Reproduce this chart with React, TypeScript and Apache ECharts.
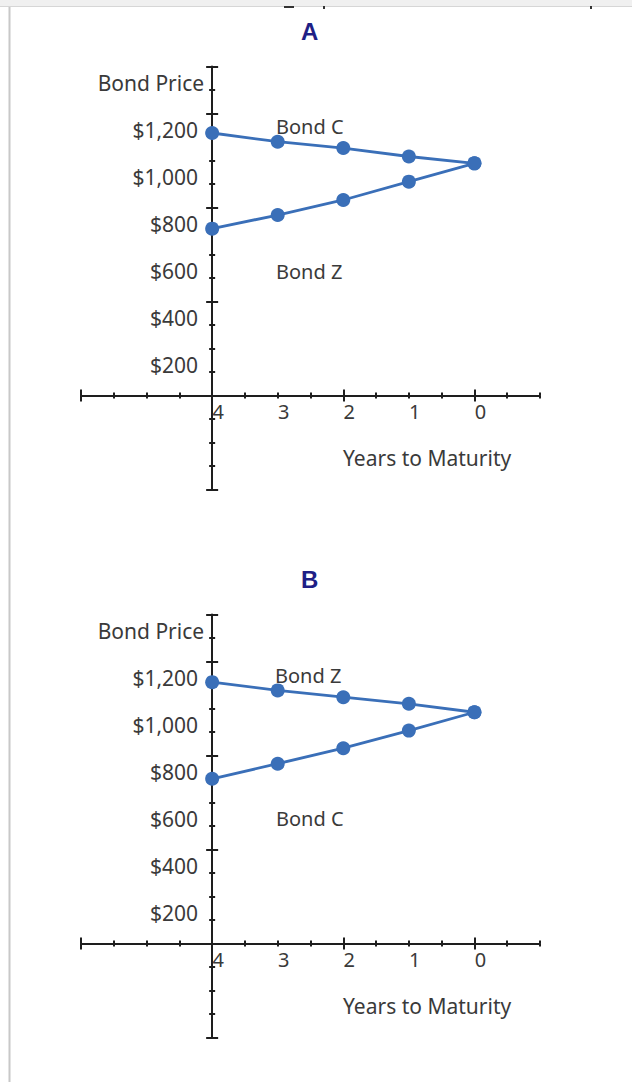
import React, { useEffect, useRef } from "react";
import * as echarts from "echarts";

// ---------- data ----------
const years = [4, 3, 2, 1, 0];
const yearTickLabels = [4, 3, 2, 1, 0];
const priceTickLabels = [200, 400, 600, 800, 1000, 1200];
const minorPriceTicks = [-330, -230, -130, -30, 70, 170, 270, 370, 470, 570, 670, 770, 870, 970, 1070, 1170, 1270, 1370, 1470];
const majorPriceTicks = [-330, 70, 470, 870, 1270, 1470];
const minorYearTicks = [-1, -0.5, 0, 0.5, 1, 1.5, 2, 2.5, 3, 3.5, 4, 4.5, 5, 5.5, 6];
const majorYearTicks = [0, 2, 4, 6];

const panelTitles = ["A", "B"];
const upperPricesA = [1187, 1150, 1123, 1087, 1058];
const lowerPricesA = [780, 838, 902, 980, 1058];
const upperPricesB = [1182, 1147, 1118, 1090, 1054];
const lowerPricesB = [771, 835, 901, 976, 1054];
const upperNames = ["Bond C", "Bond Z"];
const lowerNames = ["Bond Z", "Bond C"];
const yAxisTitle = "Bond Price";
const xAxisTitle = "Years to Maturity";

// ---------- layout / style ----------
const FONT = '"Noto Sans", "DejaVu Sans", sans-serif';
const AXIS_COLOR = "#1e1e1e";
const TEXT_COLOR = "#3a3a3a";
const LINE_COLOR = "#3a6fb8";
const TITLE_COLOR = "#1f1f86";
const PRICE_MIN = -330;
const PRICE_MAX = 1470;
const YEAR_MIN = -1;
const YEAR_MAX = 6;
const GRID_LEFT = 81;
const GRID_W = 459;
const GRID_H = 423;
const GRID_TOPS = [66.5, 614.5];
const Y_AXIS_AT_YEAR = 4;
const X_AXIS_AT_PRICE = 70;
const Y_OFFSET = -(GRID_W * (YEAR_MAX - Y_AXIS_AT_YEAR)) / (YEAR_MAX - YEAR_MIN);
const X_OFFSET = -(GRID_H * (X_AXIS_AT_PRICE - PRICE_MIN)) / (PRICE_MAX - PRICE_MIN);

const fmtPrice = (v: number) => "$" + v.toLocaleString("en-US");

function xAxesFor(g: number) {
  const base: any = {
    gridIndex: g, type: "value", min: YEAR_MIN, max: YEAR_MAX, inverse: true,
    position: "bottom", offset: X_OFFSET, splitLine: { show: false },
    axisLabel: { show: false }, axisLine: { show: false, onZero: false },
  };
  const tick = (vals: number[], inside: boolean, length: number) => ({
    show: true, inside, length, customValues: vals, lineStyle: { color: AXIS_COLOR, width: 2 },
  });
  return [
    {
      ...base,
      axisLine: { show: true, onZero: false, lineStyle: { color: AXIS_COLOR, width: 2 } },
      axisTick: tick(minorYearTicks, true, 3),
      axisLabel: {
        show: true, customValues: yearTickLabels, formatter: (v: number) => String(v),
        color: TEXT_COLOR, fontFamily: FONT, fontSize: 20, margin: 6, padding: [0, 0, 0, 12],
      },
    },
    { ...base, axisTick: tick(minorYearTicks, false, 3) },
    { ...base, axisTick: tick(majorYearTicks, true, 6) },
    { ...base, axisTick: tick(majorYearTicks, false, 6) },
  ];
}

function yAxesFor(g: number) {
  const base: any = {
    gridIndex: g, type: "value", min: PRICE_MIN, max: PRICE_MAX,
    position: "left", offset: Y_OFFSET, splitLine: { show: false },
    axisLabel: { show: false }, axisLine: { show: false, onZero: false },
  };
  const tick = (vals: number[], inside: boolean, length: number) => ({
    show: true, inside, length, customValues: vals, lineStyle: { color: AXIS_COLOR, width: 2 },
  });
  return [
    {
      ...base,
      name: yAxisTitle, nameLocation: "end", nameGap: -16,
      nameTextStyle: { align: "right", verticalAlign: "middle", padding: [0, 8, 0, 0], color: TEXT_COLOR, fontFamily: FONT, fontSize: 21 },
      axisLine: { show: true, onZero: false, lineStyle: { color: AXIS_COLOR, width: 2 } },
      axisTick: tick(minorPriceTicks, true, 3),
      axisLabel: {
        show: true, customValues: priceTickLabels, formatter: fmtPrice,
        color: TEXT_COLOR, fontFamily: FONT, fontSize: 21, margin: 14,
      },
    },
    { ...base, axisTick: tick(minorPriceTicks, false, 3) },
    { ...base, axisTick: tick(majorPriceTicks, true, 6) },
    { ...base, axisTick: tick(majorPriceTicks, false, 6) },
  ];
}

function lineSeries(name: string, prices: number[], axisIdx: number) {
  return {
    type: "line", name, xAxisIndex: axisIdx, yAxisIndex: axisIdx,
    data: years.map((y, i) => [y, prices[i]]),
    symbol: "circle", symbolSize: 14, showSymbol: true,
    lineStyle: { color: LINE_COLOR, width: 2.8 },
    itemStyle: { color: LINE_COLOR },
    z: 5,
  };
}

function textTitle(text: string, left: number, top: number, size = 20, color = TEXT_COLOR, weight: any = "normal", family = FONT) {
  return { text, left, top, padding: 0, textStyle: { color, fontSize: size, fontWeight: weight, fontFamily: family } };
}

export default function App() {
  const ref = useRef<HTMLDivElement>(null);
  useEffect(() => {
    if (!ref.current) return;
    const chart = echarts.init(ref.current, undefined, { renderer: "svg" });
    const option: any = {
      animation: false,
      backgroundColor: "#ffffff",
      grid: GRID_TOPS.map((top) => ({ left: GRID_LEFT, top, width: GRID_W, height: GRID_H, outerBoundsMode: "none", containLabel: false })),
      xAxis: [...xAxesFor(0), ...xAxesFor(1)],
      yAxis: [...yAxesFor(0), ...yAxesFor(1)],
      title: [
        textTitle(panelTitles[0], 301, 19, 24, TITLE_COLOR, "bold", '"Liberation Sans", Arial, sans-serif'),
        textTitle(panelTitles[1], 301, 567, 24, TITLE_COLOR, "bold", '"Liberation Sans", Arial, sans-serif'),
        textTitle(upperNames[0], 276, 116.5),
        textTitle(lowerNames[0], 276, 261),
        textTitle(upperNames[1], 275, 665.5),
        textTitle(lowerNames[1], 276, 808),
        textTitle(xAxisTitle, 343, 447.5, 21),
        textTitle(xAxisTitle, 343, 995.5, 21),
      ],
      series: [
        lineSeries(upperNames[0], upperPricesA, 0),
        lineSeries(lowerNames[0], lowerPricesA, 0),
        lineSeries(upperNames[1], upperPricesB, 4),
        lineSeries(lowerNames[1], lowerPricesB, 4),
      ],
      graphic: [
        { type: "rect", shape: { x: 0, y: 0, width: 632, height: 6 }, style: { fill: "#f0f0f0" }, silent: true },
        { type: "line", shape: { x1: 0, y1: 6.5, x2: 632, y2: 6.5 }, style: { stroke: "#d6d6d6", lineWidth: 1 }, silent: true },
        { type: "line", shape: { x1: 9.5, y1: 7, x2: 9.5, y2: 1082 }, style: { stroke: "#c8c8c8", lineWidth: 2 }, silent: true },
        { type: "rect", shape: { x: 284, y: 6, width: 10, height: 2 }, style: { fill: "#333" }, silent: true },
        { type: "rect", shape: { x: 323, y: 6, width: 2, height: 3 }, style: { fill: "#333" }, silent: true },
        { type: "rect", shape: { x: 590, y: 6, width: 2, height: 3 }, style: { fill: "#333" }, silent: true },
      ],
    };
    chart.setOption(option);
    return () => chart.dispose();
  }, []);
  return <div ref={ref} style={{ position: "absolute", left: 0, top: 0, width: 632, height: 1082 }} />;
}
